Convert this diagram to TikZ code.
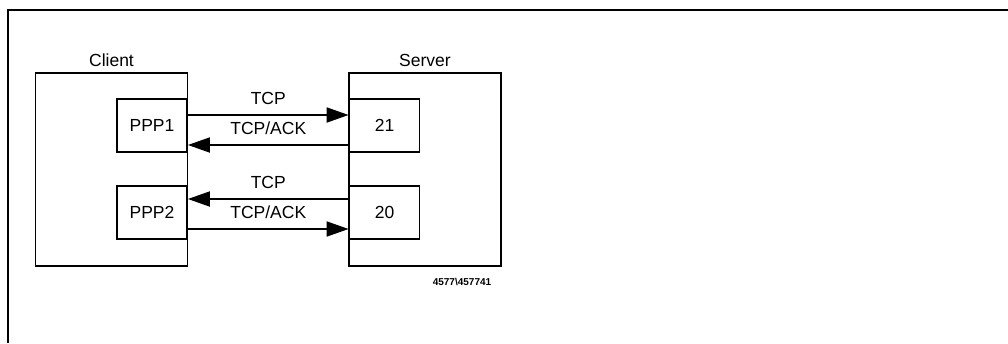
\documentclass[tikz,border=0pt]{standalone}
\usepackage{fontspec}
\setmainfont{Liberation Sans}
\usetikzlibrary{arrows.meta, positioning}

\begin{document}
\begin{tikzpicture}[
    x=1pt, y=-1pt,
    every node/.style={font=\fontsize{17.5}{20}\selectfont},
    host/.style={draw, line width=1.8pt, minimum width=152pt, minimum height=193pt, inner sep=0pt},
    port/.style={draw, line width=1.8pt, minimum width=70pt, minimum height=53pt, inner sep=0pt},
    hostlabel/.style={inner sep=0pt},
    arrow/.style={-{Triangle[length=22pt, width=15pt]}, line width=1.8pt},
    msg/.style={midway, yshift=17pt, inner sep=0pt}
]
    \useasboundingbox (0,0) rectangle (1008,343);

    % frame
    \draw[line width=1.8pt] (1008,10) -- (8,10) -- (8,343);

    % hosts
    \node[host] (client) at (111.5,169.5) {};
    \node[host] (server) at (425,169.5) {};
    \node[hostlabel, above=5pt of client] (clientlbl) {Client};
    \node[hostlabel, above=5pt of server] (serverlbl) {Server};

    % ports
    \node[port] (ppp1) at (152,125.5) {PPP1};
    \node[port] (ppp2) at (152,212.5) {PPP2};
    \node[port] (p21) at (384.5,125.5) {21};
    \node[port] (p20) at (384.5,212.5) {20};

    % arrows
    \draw[arrow] ([yshift=10.5pt]ppp1.east) -- node[msg] {TCP} ([yshift=10.5pt]p21.west);
    \draw[arrow] ([yshift=-19.5pt]p21.west) -- node[msg] {TCP/ACK} ([yshift=-19.5pt]ppp1.east);
    \draw[arrow] ([yshift=13.5pt]p20.west) -- node[msg] {TCP} ([yshift=13.5pt]ppp2.east);
    \draw[arrow] ([yshift=-16.5pt]ppp2.east) -- node[msg] {TCP/ACK} ([yshift=-16.5pt]p20.west);

    \node[font=\bfseries\fontsize{10}{12}\selectfont] (figid) at (462,282) {4577\textbackslash 457741};
\end{tikzpicture}
\end{document}
